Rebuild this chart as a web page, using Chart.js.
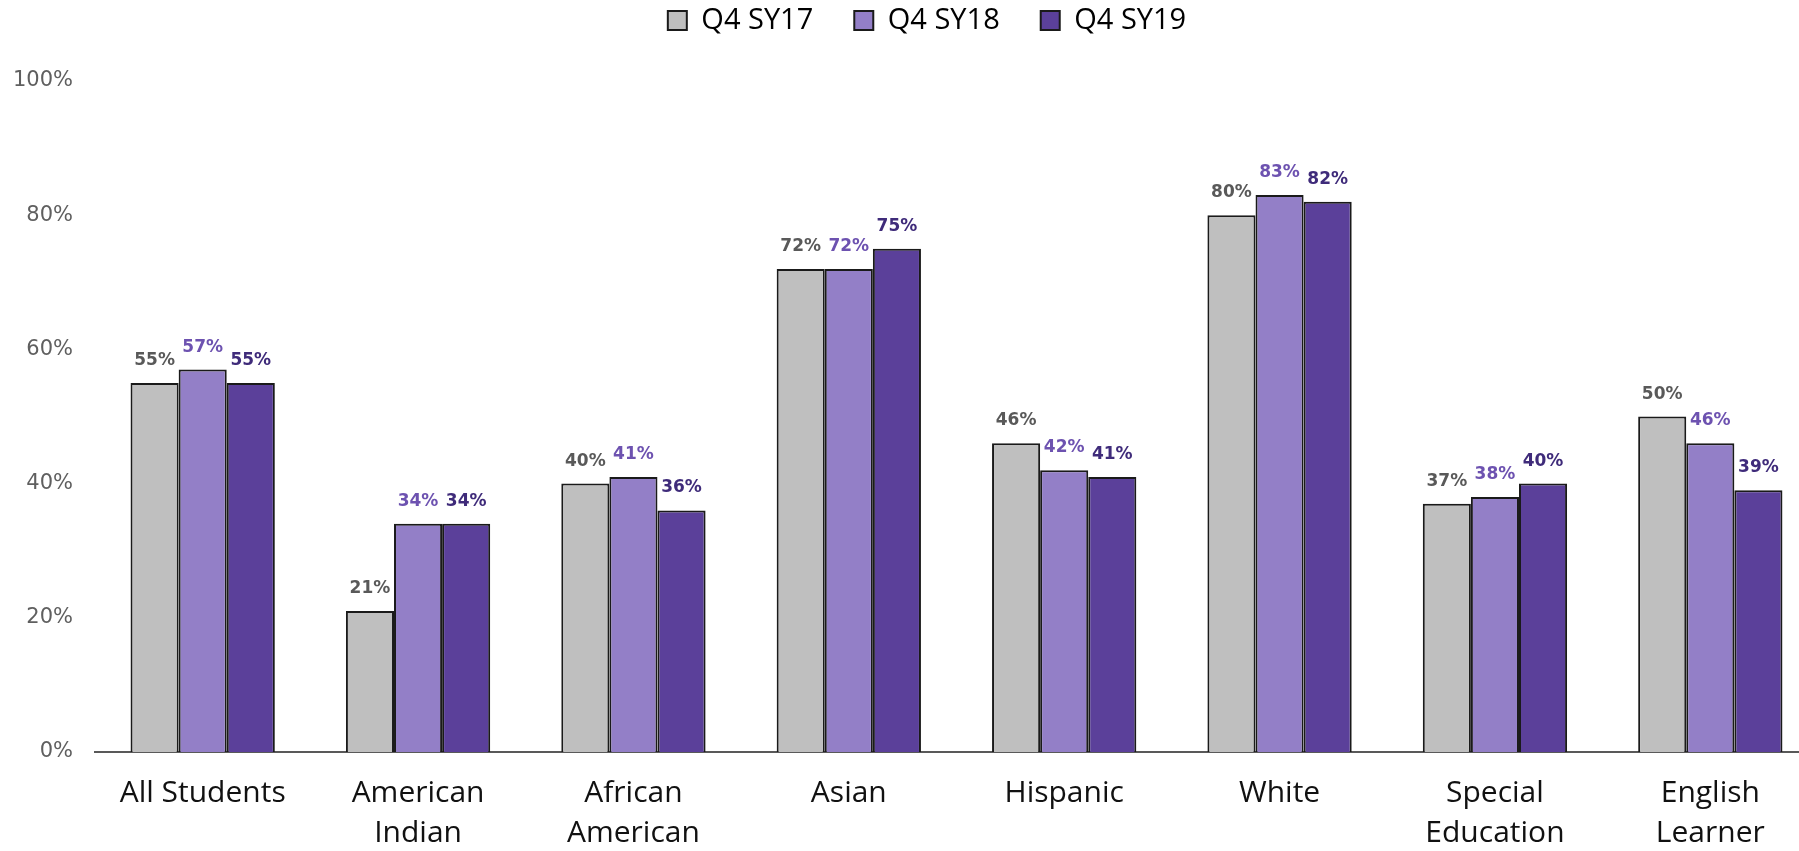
<!DOCTYPE html>
<html>
<head>
<meta charset="utf-8">
<script src="https://cdn.jsdelivr.net/npm/chart.js@4/dist/chart.umd.min.js"></script>
<style>
  html, body { margin: 0; padding: 0; background: #fff; overflow: hidden; }
  #wrap { width: 1818px; height: 851px; }
</style>
</head>
<body>
<div id="wrap"><canvas id="chart" width="1818" height="851"></canvas></div>
<script>
const categories = [
  'All Students',
  ['American', 'Indian'],
  ['African', 'American'],
  'Asian',
  'Hispanic',
  'White',
  ['Special', 'Education'],
  ['English', 'Learner'],
];
const seriesNames = ['Q4 SY17', 'Q4 SY18', 'Q4 SY19'];
const sy17 = [55, 21, 40, 72, 46, 80, 37, 50];
const sy18 = [57, 34, 41, 72, 42, 83, 38, 46];
const sy19 = [55, 34, 36, 75, 41, 82, 40, 39];
const yTicks = [0, 20, 40, 60, 80, 100];

const fills = ['#bfbfbf', '#937fc7', '#5b409a'];
const labelColors = ['#595959', '#6d52b0', '#3f2b7a'];

// value labels above each bar
const barLabels = {
  id: 'barLabels',
  afterDatasetsDraw(chart) {
    const ctx = chart.ctx;
    ctx.save();
    ctx.font = 'bold 17px "DejaVu Sans", Verdana, sans-serif';
    ctx.textAlign = 'center';
    ctx.textBaseline = 'alphabetic';
    chart.data.datasets.forEach((ds, i) => {
      const meta = chart.getDatasetMeta(i);
      ctx.fillStyle = labelColors[i];
      meta.data.forEach((bar, j) => {
        ctx.fillText(ds.data[j] + '%', bar.x, bar.y - 18);
      });
    });
    ctx.restore();
  },
};

// legend sits close to the top edge, a bit right of centre; keep the gap below it
const legendGap = {
  id: 'legendGap',
  beforeInit(chart) {
    const fit = chart.legend.fit;
    chart.legend.fit = function () {
      fit.call(this);
      this.height += 36;
    };
  },
  afterLayout(chart) {
    chart.legend.left += 18;
    chart.legend.right += 18;
  },
};

new Chart(document.getElementById('chart').getContext('2d'), {
  type: 'bar',
  data: {
    labels: categories,
    datasets: [sy17, sy18, sy19].map((data, i) => ({
      label: seriesNames[i],
      data: data,
      backgroundColor: fills[i],
      borderColor: '#1a1a1a',
      borderWidth: 2,
      borderSkipped: 'bottom',
      categoryPercentage: 0.67,
      barPercentage: 1.0,
    })),
  },
  options: {
    responsive: false,
    animation: false,
    layout: { padding: { top: -35, left: 0, right: 0, bottom: 0 } },
    plugins: {
      tooltip: { enabled: false },
      legend: {
        position: 'top',
        labels: {
          color: '#1a1a1a',
          font: { family: '"Open Sans", Lato, sans-serif', size: 29 },
          boxWidth: 19,
          boxHeight: 19,
          padding: 41,
          useBorderRadius: false,
          generateLabels(chart) {
            return chart.data.datasets.map((ds, i) => ({
              text: ds.label,
              fillStyle: fills[i],
              strokeStyle: '#1a1a1a',
              lineWidth: 2,
              datasetIndex: i,
            }));
          },
        },
      },
    },
    scales: {
      x: {
        afterFit(scale) {
          scale.height = 99;
        },
        grid: { display: false, drawTicks: false },
        border: { display: true, color: '#595959', width: 2 },
        ticks: {
          color: '#111',
          font: { family: '"Open Sans", Lato, sans-serif', size: 30, lineHeight: 1.33 },
          padding: 22,
          maxRotation: 0,
          autoSkip: false,
        },
      },
      y: {
        min: 0,
        max: 100,
        afterBuildTicks(scale) {
          scale.ticks = yTicks.map(v => ({ value: v }));
        },
        afterFit(scale) {
          scale.width = 95;
        },
        grid: { display: false, drawTicks: false },
        border: { display: false },
        ticks: {
          color: '#5f5f5f',
          font: { family: '"DejaVu Sans", Verdana, sans-serif', size: 21 },
          padding: 22,
          callback: v => v + '%',
        },
      },
    },
  },
  plugins: [barLabels, legendGap],
});
</script>
</body>
</html>
